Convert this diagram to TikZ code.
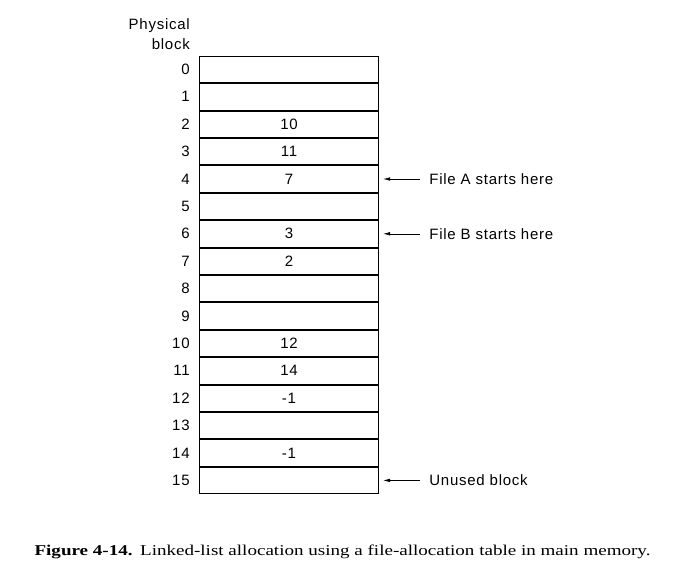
\documentclass[tikz,border=0pt]{standalone}
\usepackage{fontspec}
\setmainfont[LetterSpace=5]{Liberation Sans}
\newfontfamily\capfont[FakeStretch=1.27]{Liberation Serif}
\usetikzlibrary{arrows.meta,positioning}

\begin{document}
\begin{tikzpicture}[x=1pt, y=-1pt,
    cell/.style={draw, line width=0.9pt, minimum width=179.4pt, minimum height=26.5pt, inner sep=0pt, font=\fontsize{15}{17}\selectfont},
    num/.style={anchor=east, inner sep=0pt, font=\fontsize{15}{17}\selectfont},
    note/.style={anchor=west, inner sep=3pt, font=\fontsize{15}{17}\selectfont},
    arr/.style={-{Latex[length=7pt,width=3.6pt]}, line width=0.6pt}
]
\useasboundingbox (0,0) rectangle (674,568);
% the table, one cell per physical block
\node[cell] (row0) at (289,69.4) {};
\foreach \nxt/\prv/\val in {1/0/, 2/1/10, 3/2/11, 4/3/7, 5/4/, 6/5/3, 7/6/2, 8/7/, 9/8/, 10/9/12, 11/10/14, 12/11/-1, 13/12/, 14/13/-1, 15/14/}
  \node[cell, below=0pt of row\prv] (row\nxt) {\val};
% block numbers
\foreach \i in {0,...,15}
  \node[num] (blk\i) at ([xshift=-9pt]row\i.west) {\i};
\node[num, align=right, font=\fontsize{15}{20}\selectfont] (head) at (190,34) {Physical\\block};
% pointers
\node[note, right=47pt of row4.east] (fileA) {File A starts here};
\node[note, right=47pt of row6.east] (fileB) {File B starts here};
\node[note, right=47pt of row15.east] (unused) {Unused block};
\draw[arr] ([xshift=-6pt]fileA.west) -- ([xshift=4pt]row4.east);
\draw[arr] ([xshift=-6pt]fileB.west) -- ([xshift=4pt]row6.east);
\draw[arr] ([xshift=-6pt]unused.west) -- ([xshift=4pt]row15.east);
% caption
\node[anchor=base, inner sep=0pt, font=\capfont\fontsize{15}{17}\selectfont] (caption) at (342.5,555) {\textbf{Figure 4-14.}\enspace Linked-list allocation using a file-allocation table in main memory.};
\end{tikzpicture}
\end{document}
